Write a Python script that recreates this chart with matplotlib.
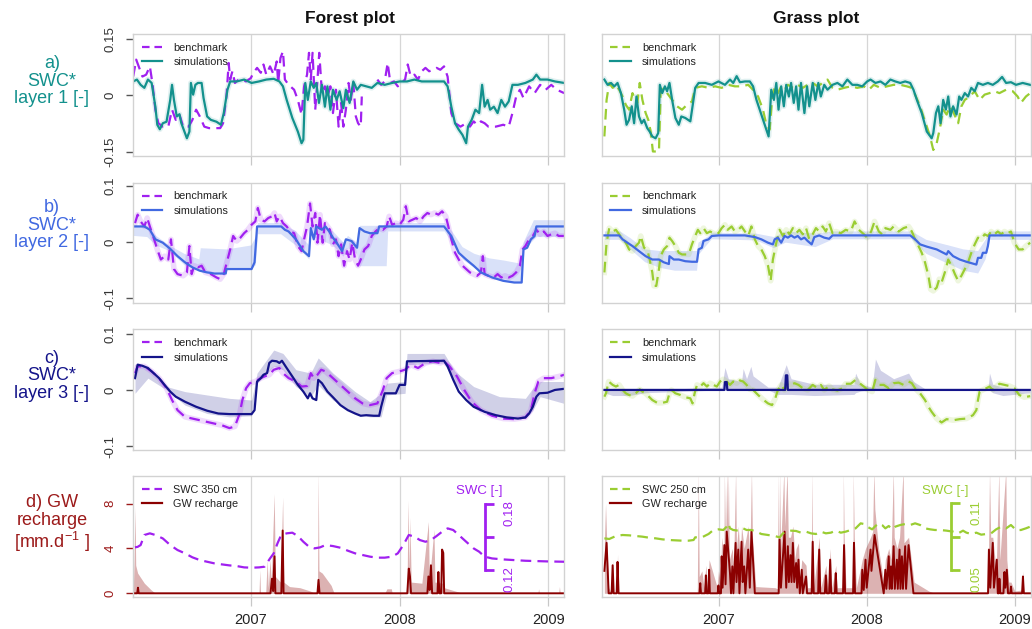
import numpy as np
import matplotlib
matplotlib.use('Agg')
import matplotlib.pyplot as plt
from matplotlib.lines import Line2D
from matplotlib.transforms import offset_copy

plt.rcParams['font.family'] = ['Liberation Sans', 'DejaVu Sans']
plt.rcParams['mathtext.fontset'] = 'custom'
plt.rcParams['mathtext.rm'] = 'Liberation Sans'
plt.rcParams['mathtext.it'] = 'Liberation Sans:italic'

nan = float('nan')

# ------------------------------------------------------------------ data
YEARS = [2007, 2008, 2009]
YEAR_LABELS = ['2007', '2008', '2009']
XLIM = (2006.209, 2009.107)
COL_TITLES = ['Forest plot', 'Grass plot']
ROW_LABELS = ['a)\nSWC*\nlayer 1 [-]', 'b)\nSWC*\nlayer 2 [-]',
              'c)\nSWC*\nlayer 3 [-]', 'd) GW\nrecharge\n[mm.d$^{-1}$ ]']

# Row a: layer 1, forest
fa1_sim = [
    (2006.209, 0.037), (2006.234, 0.042), (2006.259, 0.028), (2006.284, 0.020), (2006.308, 0.042), (2006.333, 0.033), (2006.358, -0.030), (2006.371, -0.078), (2006.388, -0.090), (2006.408, -0.074),
    (2006.433, -0.070), (2006.458, -0.012), (2006.470, 0.028), (2006.483, -0.012), (2006.502, -0.056), (2006.520, -0.050), (2006.532, -0.073), (2006.557, -0.100), (2006.570, -0.114), (2006.587, -0.096),
    (2006.597, 0.033), (2006.612, 0.002), (2006.627, 0.028), (2006.644, 0.033), (2006.669, 0.033), (2006.682, -0.007), (2006.706, -0.056), (2006.731, -0.065), (2006.769, -0.070), (2006.799, -0.078),
    (2006.818, -0.047), (2006.843, 0.015), (2006.861, 0.037), (2006.905, 0.037), (2006.955, 0.042), (2007.005, 0.033), (2007.055, 0.037), (2007.104, 0.042), (2007.154, 0.044), (2007.192, 0.037),
    (2007.216, 0.024), (2007.241, -0.012), (2007.279, -0.060), (2007.316, -0.096), (2007.341, -0.127), (2007.353, -0.118), (2007.366, 0.033), (2007.383, -0.012), (2007.403, 0.037), (2007.423, 0.020),
    (2007.440, 0.033), (2007.458, -0.020), (2007.478, 0.028), (2007.498, -0.030), (2007.515, 0.024), (2007.535, -0.038), (2007.552, 0.015), (2007.577, -0.012), (2007.597, 0.011), (2007.622, -0.034),
    (2007.639, 0.015), (2007.664, -0.020), (2007.689, 0.037), (2007.714, 0.015), (2007.739, 0.028), (2007.776, 0.024), (2007.813, 0.020), (2007.851, 0.033), (2007.900, 0.028), (2007.950, 0.033),
    (2008.000, 0.037), (2008.050, 0.037), (2008.100, 0.042), (2008.149, 0.037), (2008.199, 0.037), (2008.249, 0.037), (2008.299, 0.037), (2008.323, 0.024), (2008.348, -0.030), (2008.373, -0.074),
    (2008.398, -0.091), (2008.423, -0.105), (2008.448, -0.127), (2008.460, -0.083), (2008.485, -0.065), (2008.510, -0.038), (2008.535, -0.047), (2008.555, 0.028), (2008.572, -0.030), (2008.592, -0.012),
    (2008.609, -0.038), (2008.634, -0.030), (2008.659, -0.047), (2008.684, -0.012), (2008.709, -0.030), (2008.734, -0.016), (2008.759, 0.028), (2008.796, 0.028), (2008.846, 0.033), (2008.896, 0.042),
    (2008.920, 0.055), (2008.945, 0.042), (2008.995, 0.042), (2009.045, 0.037), (2009.107, 0.033)]

fa1_bench = [
    (2006.209, 0.050), (2006.229, 0.095), (2006.246, 0.077), (2006.271, 0.050), (2006.296, 0.055), (2006.321, 0.077), (2006.338, 0.033), (2006.358, -0.038), (2006.378, -0.074), (2006.408, -0.083),
    (2006.445, -0.083), (2006.470, -0.038), (2006.495, -0.065), (2006.520, -0.051), (2006.545, -0.083), (2006.582, -0.083), (2006.607, -0.065), (2006.632, -0.038), (2006.657, -0.056), (2006.687, -0.083),
    (2006.719, -0.087), (2006.756, -0.087), (2006.794, -0.087), (2006.813, -0.074), (2006.836, -0.003), (2006.851, 0.086), (2006.861, 0.042), (2006.876, 0.064), (2006.893, 0.033), (2006.918, 0.042),
    (2006.943, 0.042), (2006.968, 0.037), (2007.000, 0.046), (2007.017, 0.060), (2007.042, 0.073), (2007.067, 0.060), (2007.085, 0.082), (2007.104, 0.055), (2007.129, 0.077), (2007.154, 0.055),
    (2007.174, 0.090), (2007.184, 0.033), (2007.199, 0.099), (2007.216, 0.117), (2007.229, 0.042), (2007.254, 0.028), (2007.291, 0.015), (2007.316, -0.012), (2007.341, -0.051), (2007.358, 0.024),
    (2007.378, 0.055), (2007.391, 0.113), (2007.403, 0.042), (2007.415, 0.113), (2007.433, -0.038), (2007.448, 0.042), (2007.460, 0.113), (2007.478, 0.006), (2007.498, 0.024), (2007.515, -0.003),
    (2007.535, 0.024), (2007.552, -0.047), (2007.572, 0.015), (2007.590, -0.083), (2007.607, -0.020), (2007.622, -0.083), (2007.639, -0.038), (2007.657, 0.033), (2007.672, -0.012), (2007.689, 0.033),
    (2007.706, -0.056), (2007.721, -0.074), (2007.739, -0.083), (2007.746, -0.003), (2007.770, nan), (2007.851, 0.042), (2007.876, 0.028), (2007.900, 0.037), (2007.920, 0.086), (2007.938, 0.033),
    (2007.963, 0.037), (2007.988, 0.024), (2008.012, 0.033), (2008.037, 0.042), (2008.055, 0.082), (2008.075, 0.050), (2008.100, 0.055), (2008.124, 0.042), (2008.149, 0.064), (2008.174, 0.073),
    (2008.199, 0.064), (2008.224, 0.068), (2008.249, 0.073), (2008.274, 0.068), (2008.299, 0.077), (2008.323, 0.050), (2008.348, -0.047), (2008.373, -0.074), (2008.410, -0.083), (2008.448, -0.074),
    (2008.473, -0.083), (2008.498, -0.069), (2008.522, -0.078), (2008.547, -0.069), (2008.572, -0.074), (2008.597, -0.083), (2008.647, -0.083), (2008.697, -0.078), (2008.734, -0.083), (2008.759, -0.047),
    (2008.784, -0.003), (2008.809, 0.015), (2008.833, -0.007), (2008.871, 0.024), (2008.908, 0.006), (2008.945, 0.028), (2008.983, 0.015), (2009.020, 0.028), (2009.057, 0.015), (2009.107, 0.006)]

# Row a: layer 1, grass
ga1_sim = [
    (2006.227, 0.042), (2006.249, 0.028), (2006.272, 0.033), (2006.294, 0.024), (2006.316, 0.033), (2006.339, 0.006), (2006.361, -0.038), (2006.377, -0.078), (2006.394, -0.065), (2006.412, -0.029),
    (2006.428, -0.074), (2006.444, -0.003), (2006.461, -0.056), (2006.479, -0.074), (2006.495, -0.065), (2006.517, -0.087), (2006.533, -0.096), (2006.551, -0.109), (2006.573, -0.114), (2006.591, -0.100),
    (2006.602, 0.028), (2006.618, 0.006), (2006.636, 0.024), (2006.651, 0.011), (2006.667, 0.033), (2006.685, -0.012), (2006.707, -0.060), (2006.730, -0.078), (2006.747, -0.056), (2006.774, -0.060),
    (2006.808, -0.069), (2006.823, -0.029), (2006.841, 0.020), (2006.864, 0.033), (2006.908, 0.033), (2006.953, 0.028), (2006.998, 0.037), (2007.042, 0.028), (2007.076, 0.042), (2007.098, 0.033),
    (2007.121, 0.051), (2007.143, 0.035), (2007.177, 0.037), (2007.210, 0.037), (2007.232, 0.024), (2007.255, -0.012), (2007.288, -0.051), (2007.315, -0.083), (2007.337, -0.109), (2007.355, 0.015),
    (2007.373, -0.012), (2007.389, 0.033), (2007.404, -0.038), (2007.422, 0.024), (2007.440, -0.029), (2007.456, 0.028), (2007.474, -0.003), (2007.489, 0.033), (2007.507, -0.020), (2007.523, 0.024),
    (2007.539, -0.038), (2007.556, 0.033), (2007.579, -0.047), (2007.597, 0.024), (2007.612, -0.029), (2007.635, 0.033), (2007.653, -0.012), (2007.673, 0.033), (2007.690, -0.003), (2007.713, 0.028),
    (2007.735, 0.015), (2007.769, 0.028), (2007.802, 0.033), (2007.836, 0.024), (2007.869, 0.042), (2007.903, 0.028), (2007.936, 0.028), (2007.970, 0.024), (2008.003, 0.037), (2008.026, 0.042),
    (2008.059, 0.033), (2008.093, 0.037), (2008.126, 0.028), (2008.160, 0.042), (2008.193, 0.037), (2008.227, 0.033), (2008.260, 0.037), (2008.294, 0.033), (2008.316, 0.015), (2008.339, -0.012),
    (2008.372, -0.047), (2008.406, -0.096), (2008.439, -0.114), (2008.450, -0.100), (2008.468, -0.047), (2008.484, -0.029), (2008.499, -0.074), (2008.517, -0.012), (2008.535, -0.038), (2008.551, -0.003),
    (2008.566, -0.056), (2008.584, -0.029), (2008.607, -0.051), (2008.625, -0.003), (2008.640, -0.012), (2008.663, 0.006), (2008.685, -0.003), (2008.707, 0.020), (2008.730, 0.011), (2008.752, 0.033),
    (2008.785, 0.028), (2008.819, 0.033), (2008.852, 0.028), (2008.886, 0.037), (2008.915, 0.049), (2008.942, 0.033), (2008.975, 0.035), (2009.009, 0.028), (2009.054, 0.033), (2009.105, 0.028)]

ga1_bench = [
    (2006.227, -0.109), (2006.242, -0.012), (2006.260, 0.033), (2006.283, 0.020), (2006.305, 0.028), (2006.327, 0.015), (2006.350, -0.003), (2006.372, -0.025), (2006.394, -0.038), (2006.417, 0.006),
    (2006.435, -0.012), (2006.450, -0.020), (2006.466, 0.033), (2006.484, -0.012), (2006.506, -0.047), (2006.524, -0.065), (2006.540, -0.096), (2006.555, -0.149), (2006.573, -0.149), (2006.596, -0.149),
    (2006.607, 0.006), (2006.629, 0.020), (2006.651, 0.006), (2006.685, -0.012), (2006.718, -0.029), (2006.752, -0.038), (2006.785, -0.025), (2006.819, -0.016), (2006.841, 0.020), (2006.886, 0.024),
    (2006.931, 0.020), (2006.975, 0.024), (2007.020, 0.020), (2007.065, 0.028), (2007.109, 0.024), (2007.154, 0.024), (2007.199, 0.028), (2007.232, 0.015), (2007.266, -0.003), (2007.299, -0.038),
    (2007.322, -0.078), (2007.344, -0.091), (2007.360, -0.012), (2007.378, 0.024), (2007.400, 0.006), (2007.422, 0.024), (2007.445, 0.015), (2007.467, 0.028), (2007.501, 0.020), (2007.534, 0.028),
    (2007.568, 0.020), (2007.601, 0.028), (2007.635, 0.033), (2007.668, 0.024), (2007.702, 0.033), (2007.735, 0.042), (2007.769, 0.020), (2007.802, 0.015), (2007.847, 0.020), (2007.892, 0.024),
    (2007.936, 0.020), (2007.981, 0.024), (2008.015, 0.015), (2008.048, 0.028), (2008.093, 0.020), (2008.137, 0.024), (2008.182, 0.028), (2008.227, 0.028), (2008.271, 0.024), (2008.305, 0.020),
    (2008.327, 0.002), (2008.361, -0.029), (2008.394, -0.069), (2008.428, -0.109), (2008.450, -0.145), (2008.473, -0.127), (2008.495, -0.087), (2008.517, -0.038), (2008.540, -0.051), (2008.562, -0.029),
    (2008.584, -0.043), (2008.618, -0.074), (2008.640, -0.029), (2008.663, -0.012), (2008.696, -0.003), (2008.730, 0.011), (2008.763, -0.012), (2008.797, 0.002), (2008.830, 0.006), (2008.864, 0.011),
    (2008.897, 0.006), (2008.942, 0.015), (2008.987, 0.011), (2009.020, -0.003), (2009.042, -0.020), (2009.076, -0.003), (2009.105, 0.006)]

# Row b: layer 2, forest
fb2_sim = [
    (2006.221, 0.028), (2006.284, 0.028), (2006.321, 0.022), (2006.358, 0.005), (2006.408, -0.001), (2006.458, -0.012), (2006.507, -0.025), (2006.557, -0.036), (2006.607, -0.045), (2006.657, -0.051),
    (2006.706, -0.054), (2006.756, -0.056), (2006.831, -0.056), (2006.836, -0.048), (2007.005, -0.048), (2007.025, -0.036), (2007.042, 0.028), (2007.204, 0.028), (2007.229, 0.022), (2007.254, 0.019),
    (2007.303, 0.005), (2007.353, -0.016), (2007.391, -0.025), (2007.403, 0.025), (2007.423, 0.005), (2007.440, 0.028), (2007.458, 0.025), (2007.478, 0.022), (2007.502, 0.028), (2007.527, 0.019),
    (2007.552, 0.008), (2007.577, -0.001), (2007.614, -0.016), (2007.639, 0.005), (2007.677, 0.002), (2007.714, -0.010), (2007.731, 0.025), (2007.764, 0.019), (2007.801, 0.016), (2007.851, 0.016),
    (2007.863, 0.028), (2008.299, 0.028), (2008.348, 0.011), (2008.398, -0.019), (2008.448, -0.031), (2008.498, -0.042), (2008.547, -0.054), (2008.622, -0.063), (2008.697, -0.069), (2008.771, -0.072),
    (2008.821, -0.072), (2008.833, -0.013), (2008.858, -0.010), (2008.883, 0.005), (2008.908, 0.011), (2008.920, 0.028), (2009.107, 0.028)]

fb2_band = [  # (time, low, high)
    (2006.209, 0.012, 0.030), (2006.300, 0.010, 0.030), (2006.360, -0.005, 0.012), (2006.450, -0.015, -0.005), (2006.550, -0.040, -0.020), (2006.650, -0.050, -0.030),
    (2006.660, -0.051, -0.010), (2006.830, -0.056, -0.012), (2006.840, -0.048, -0.012), (2007.000, -0.048, -0.005), (2007.030, -0.040, 0.010), (2007.045, 0.015, 0.035),
    (2007.200, 0.015, 0.035), (2007.300, -0.005, 0.020), (2007.390, -0.030, -0.005), (2007.400, 0.012, 0.035), (2007.550, -0.005, 0.020), (2007.620, -0.025, 0.000),
    (2007.650, -0.010, 0.012), (2007.710, -0.020, 0.000), (2007.730, -0.042, 0.030), (2007.910, -0.042, 0.030), (2007.920, 0.020, 0.035), (2008.300, 0.020, 0.035),
    (2008.350, 0.000, 0.020), (2008.420, -0.030, -0.008), (2008.500, -0.045, -0.020), (2008.600, -0.060, -0.028), (2008.700, -0.069, -0.032), (2008.820, -0.072, -0.038),
    (2008.830, -0.015, 0.000), (2008.900, 0.005, 0.040), (2008.920, 0.010, 0.040), (2009.107, 0.010, 0.040)]

fb2_bench = [
    (2006.221, 0.034), (2006.239, 0.049), (2006.259, 0.037), (2006.284, 0.028), (2006.303, 0.043), (2006.321, 0.028), (2006.346, 0.008), (2006.371, -0.013), (2006.395, -0.031), (2006.420, -0.025),
    (2006.445, -0.031), (2006.463, 0.005), (2006.483, -0.048), (2006.507, -0.057), (2006.545, -0.060), (2006.570, -0.054), (2006.587, -0.007), (2006.602, -0.057), (2006.619, -0.042), (2006.644, -0.045),
    (2006.669, -0.042), (2006.694, -0.054), (2006.731, -0.057), (2006.769, -0.063), (2006.794, -0.066), (2006.818, -0.057), (2006.843, -0.031), (2006.861, -0.013), (2006.881, 0.011), (2006.905, 0.002),
    (2006.930, 0.008), (2006.955, 0.016), (2006.980, 0.022), (2007.005, 0.031), (2007.030, 0.037), (2007.047, 0.061), (2007.067, 0.040), (2007.092, 0.037), (2007.117, 0.043), (2007.142, 0.046),
    (2007.159, 0.052), (2007.174, 0.037), (2007.192, 0.046), (2007.216, 0.034), (2007.241, 0.028), (2007.266, 0.019), (2007.291, 0.016), (2007.316, -0.007), (2007.341, -0.016), (2007.358, 0.005),
    (2007.378, 0.028), (2007.398, 0.069), (2007.415, 0.028), (2007.433, 0.052), (2007.448, -0.001), (2007.465, 0.049), (2007.483, -0.001), (2007.498, 0.034), (2007.515, 0.028), (2007.532, 0.022),
    (2007.552, -0.004), (2007.572, 0.005), (2007.590, -0.025), (2007.607, -0.004), (2007.627, -0.042), (2007.647, -0.016), (2007.664, -0.031), (2007.682, -0.001), (2007.701, -0.031), (2007.721, -0.042),
    (2007.739, -0.031), (2007.764, -0.013), (2007.789, -0.007), (2007.813, 0.011), (2007.838, 0.019), (2007.863, 0.025), (2007.888, 0.022), (2007.913, 0.028), (2007.930, 0.046), (2007.950, 0.031),
    (2007.975, 0.034), (2008.000, 0.031), (2008.025, 0.040), (2008.042, 0.064), (2008.062, 0.037), (2008.087, 0.040), (2008.112, 0.043), (2008.137, 0.037), (2008.162, 0.046), (2008.187, 0.052),
    (2008.211, 0.049), (2008.236, 0.052), (2008.261, 0.049), (2008.286, 0.055), (2008.311, 0.046), (2008.328, 0.028), (2008.348, 0.005), (2008.373, -0.019), (2008.398, -0.031), (2008.423, -0.042),
    (2008.448, -0.048), (2008.473, -0.054), (2008.498, -0.057), (2008.522, -0.060), (2008.547, -0.054), (2008.560, -0.025), (2008.572, -0.057), (2008.597, -0.060), (2008.634, -0.063), (2008.659, -0.057),
    (2008.684, -0.063), (2008.709, -0.060), (2008.734, -0.063), (2008.759, -0.060), (2008.784, -0.054), (2008.809, -0.042), (2008.826, -0.013), (2008.846, -0.007), (2008.871, 0.005), (2008.896, 0.011),
    (2008.920, 0.022), (2008.945, 0.014), (2008.970, 0.019), (2008.995, 0.011), (2009.020, 0.014), (2009.045, 0.016), (2009.070, 0.011), (2009.107, 0.011)]

# Row b: layer 2, grass
gb2_sim = [
    (2006.227, 0.012), (2006.327, 0.012), (2006.350, 0.005), (2006.383, -0.001), (2006.417, -0.007), (2006.461, -0.016), (2006.506, -0.025), (2006.551, -0.031), (2006.596, -0.031), (2006.629, -0.036),
    (2006.663, -0.039), (2006.667, -0.025), (2006.696, -0.031), (2006.730, -0.031), (2006.774, -0.034), (2006.819, -0.035), (2006.853, -0.035), (2006.864, -0.013), (2006.886, -0.010), (2006.897, 0.002),
    (2006.931, 0.005), (2006.953, 0.011), (2006.998, 0.012), (2007.177, 0.012), (2007.244, 0.009), (2007.288, 0.005), (2007.333, -0.001), (2007.366, -0.004), (2007.378, 0.005), (2007.400, 0.008),
    (2007.422, -0.001), (2007.445, 0.011), (2007.467, 0.008), (2007.489, 0.012), (2007.512, 0.008), (2007.534, 0.011), (2007.556, 0.005), (2007.579, 0.008), (2007.601, 0.002), (2007.628, -0.004),
    (2007.646, 0.009), (2007.679, 0.012), (2007.713, 0.008), (2007.746, 0.006), (2007.769, 0.012), (2008.294, 0.012), (2008.327, 0.005), (2008.361, -0.004), (2008.406, -0.008), (2008.473, -0.013),
    (2008.540, -0.022), (2008.551, -0.016), (2008.584, -0.025), (2008.629, -0.031), (2008.674, -0.035), (2008.741, -0.040), (2008.752, -0.028), (2008.774, -0.028), (2008.785, -0.019), (2008.808, -0.019),
    (2008.819, -0.007), (2008.830, 0.012), (2009.105, 0.012)]

gb2_band = [  # (time, low, high)
    (2006.227, 0.005, 0.020), (2006.330, 0.005, 0.020), (2006.400, -0.012, 0.008), (2006.500, -0.035, -0.012), (2006.600, -0.045, -0.015), (2006.700, -0.050, -0.015),
    (2006.850, -0.050, -0.015), (2006.860, -0.022, 0.000), (2006.930, 0.000, 0.012), (2006.950, 0.006, 0.018), (2007.250, 0.004, 0.016), (2007.370, -0.010, 0.010),
    (2007.450, 0.000, 0.020), (2007.650, -0.008, 0.016), (2007.770, 0.006, 0.020), (2008.300, 0.006, 0.020), (2008.400, -0.020, 0.005), (2008.550, -0.038, -0.005),
    (2008.650, -0.050, -0.012), (2008.750, -0.055, -0.015), (2008.800, -0.030, 0.005), (2008.830, 0.005, 0.020), (2009.105, 0.005, 0.020)]

gb2_bench = [
    (2006.227, -0.054), (2006.242, -0.001), (2006.260, 0.025), (2006.283, 0.019), (2006.305, 0.022), (2006.327, 0.014), (2006.350, 0.005), (2006.372, -0.001), (2006.394, -0.013), (2006.417, -0.016),
    (2006.439, -0.007), (2006.461, -0.001), (2006.473, 0.011), (2006.495, -0.010), (2006.517, -0.013), (2006.533, -0.031), (2006.551, -0.054), (2006.562, -0.078), (2006.578, -0.078), (2006.596, -0.048),
    (2006.607, -0.025), (2006.629, -0.013), (2006.651, -0.007), (2006.667, 0.008), (2006.685, 0.002), (2006.707, -0.007), (2006.730, -0.019), (2006.752, -0.022), (2006.774, -0.022), (2006.797, -0.022),
    (2006.819, -0.004), (2006.841, 0.011), (2006.859, 0.022), (2006.875, 0.016), (2006.897, 0.025), (2006.920, 0.016), (2006.942, 0.019), (2006.975, 0.014), (2006.998, 0.016), (2007.020, 0.025),
    (2007.042, 0.031), (2007.060, 0.022), (2007.087, 0.028), (2007.109, 0.019), (2007.132, 0.022), (2007.154, 0.028), (2007.177, 0.019), (2007.199, 0.011), (2007.221, 0.028), (2007.244, 0.005),
    (2007.266, -0.007), (2007.288, -0.013), (2007.311, -0.025), (2007.333, -0.042), (2007.351, -0.069), (2007.366, -0.031), (2007.389, -0.001), (2007.411, 0.022), (2007.434, 0.011), (2007.456, 0.022),
    (2007.478, 0.014), (2007.501, 0.025), (2007.523, 0.016), (2007.545, 0.022), (2007.568, 0.014), (2007.590, 0.025), (2007.612, 0.005), (2007.635, 0.014), (2007.657, 0.025), (2007.679, 0.019),
    (2007.702, 0.028), (2007.724, 0.019), (2007.746, 0.034), (2007.769, 0.016), (2007.791, 0.019), (2007.825, 0.016), (2007.858, 0.022), (2007.892, 0.019), (2007.918, 0.037), (2007.947, 0.022),
    (2007.981, 0.014), (2008.003, 0.008), (2008.030, 0.019), (2008.053, 0.037), (2008.082, 0.019), (2008.104, 0.014), (2008.126, 0.025), (2008.160, 0.022), (2008.182, 0.028), (2008.216, 0.019),
    (2008.249, 0.025), (2008.283, 0.028), (2008.305, 0.019), (2008.327, 0.005), (2008.350, -0.007), (2008.372, -0.019), (2008.394, -0.036), (2008.417, -0.060), (2008.432, -0.084), (2008.450, -0.087),
    (2008.473, -0.081), (2008.490, -0.066), (2008.506, -0.072), (2008.528, -0.054), (2008.551, -0.031), (2008.573, -0.042), (2008.596, -0.057), (2008.618, -0.069), (2008.640, -0.060), (2008.663, -0.048),
    (2008.685, -0.036), (2008.707, -0.019), (2008.730, -0.004), (2008.752, 0.008), (2008.774, 0.005), (2008.797, 0.014), (2008.819, 0.011), (2008.841, 0.019), (2008.864, 0.014), (2008.886, 0.019),
    (2008.909, 0.014), (2008.931, 0.019), (2008.953, 0.016), (2008.975, 0.019), (2008.998, -0.001), (2009.027, -0.013), (2009.054, -0.013), (2009.076, -0.007), (2009.105, -0.001)]

# Row c: layer 3, forest
fc3_sim = [
    (2006.221, 0.021), (2006.239, 0.045), (2006.271, 0.043), (2006.308, 0.039), (2006.346, 0.030), (2006.383, 0.021), (2006.420, 0.009), (2006.458, -0.003), (2006.495, -0.012), (2006.557, -0.021),
    (2006.632, -0.030), (2006.706, -0.037), (2006.781, -0.042), (2006.856, -0.043), (2007.005, -0.043), (2007.025, -0.036), (2007.042, 0.015), (2007.067, 0.021), (2007.085, 0.027), (2007.109, 0.030),
    (2007.124, 0.048), (2007.142, 0.052), (2007.174, 0.051), (2007.192, 0.048), (2007.209, 0.052), (2007.241, 0.039), (2007.279, 0.024), (2007.316, 0.009), (2007.353, -0.003), (2007.383, -0.015),
    (2007.398, -0.006), (2007.415, -0.015), (2007.440, -0.018), (2007.453, 0.018), (2007.478, 0.012), (2007.515, -0.003), (2007.552, -0.013), (2007.602, -0.027), (2007.652, -0.036), (2007.701, -0.042),
    (2007.739, -0.046), (2007.776, -0.045), (2007.826, -0.046), (2007.863, -0.046), (2007.876, -0.030), (2007.900, -0.006), (2007.975, -0.006), (2008.000, 0.009), (2008.037, 0.009), (2008.050, 0.051),
    (2008.299, 0.052), (2008.323, 0.042), (2008.361, 0.018), (2008.398, -0.003), (2008.448, -0.018), (2008.498, -0.030), (2008.572, -0.039), (2008.647, -0.045), (2008.721, -0.049), (2008.796, -0.051),
    (2008.846, -0.049), (2008.871, -0.042), (2008.896, -0.030), (2008.920, -0.012), (2008.940, -0.006), (2008.995, -0.005), (2009.045, 0.000), (2009.107, 0.002)]

fc3_band = [  # (time, low, high)
    (2006.221, -0.006, 0.045), (2006.308, 0.021, 0.042), (2006.433, 0.000, 0.006), (2006.557, -0.027, -0.003), (2006.706, -0.042, -0.009), (2006.856, -0.048, -0.015),
    (2007.005, -0.046, -0.018), (2007.042, 0.012, 0.030), (2007.154, 0.042, 0.071), (2007.216, 0.036, 0.065), (2007.303, 0.006, 0.036), (2007.403, -0.012, 0.030),
    (2007.453, 0.009, 0.057), (2007.552, -0.018, 0.030), (2007.701, -0.042, -0.003), (2007.801, -0.048, -0.021), (2007.876, -0.048, -0.006), (2007.913, -0.009, 0.012),
    (2008.037, -0.006, 0.015), (2008.050, 0.045, 0.065), (2008.299, 0.048, 0.065), (2008.373, 0.012, 0.033), (2008.498, -0.030, 0.006), (2008.672, -0.046, -0.012),
    (2008.846, -0.051, -0.015), (2008.896, -0.036, 0.003), (2008.945, -0.012, 0.015), (2009.107, -0.024, 0.015)]

fc3_bench = [
    (2006.221, 0.030), (2006.239, 0.042), (2006.284, 0.042), (2006.333, 0.033), (2006.383, 0.021), (2006.433, 0.003), (2006.470, -0.018), (2006.507, -0.036), (2006.557, -0.048), (2006.607, -0.051),
    (2006.657, -0.054), (2006.706, -0.057), (2006.756, -0.060), (2006.806, -0.063), (2006.856, -0.068), (2006.893, -0.065), (2006.925, -0.042), (2006.943, -0.018), (2006.968, 0.003), (2006.993, 0.012),
    (2007.030, 0.015), (2007.067, 0.021), (2007.092, 0.024), (2007.124, 0.027), (2007.154, 0.036), (2007.192, 0.039), (2007.216, 0.030), (2007.254, 0.021), (2007.303, 0.015), (2007.341, 0.006),
    (2007.378, 0.007), (2007.403, 0.030), (2007.423, 0.021), (2007.448, 0.027), (2007.473, 0.036), (2007.502, 0.033), (2007.552, 0.021), (2007.602, 0.009), (2007.652, -0.003), (2007.701, -0.015),
    (2007.751, -0.024), (2007.801, -0.027), (2007.851, -0.024), (2007.888, 0.000), (2007.913, 0.021), (2007.950, 0.030), (2008.000, 0.033), (2008.037, 0.036), (2008.075, 0.045), (2008.124, 0.039),
    (2008.174, 0.048), (2008.224, 0.051), (2008.274, 0.048), (2008.299, 0.051), (2008.336, 0.042), (2008.386, 0.024), (2008.435, 0.000), (2008.485, -0.021), (2008.547, -0.036), (2008.622, -0.046),
    (2008.697, -0.051), (2008.771, -0.052), (2008.846, -0.049), (2008.883, -0.036), (2008.908, -0.006), (2008.933, 0.015), (2008.970, 0.021), (2009.020, 0.021), (2009.070, 0.024), (2009.107, 0.027)]

# Row c: layer 3, grass
gc3_sim = [(2006.227, 0.0), (2007.038, 0.0), (2007.042, 0.014), (2007.054, 0.014), (2007.058, 0.0), (2007.449, 0.0),
           (2007.454, 0.026), (2007.463, 0.026), (2007.467, 0.0), (2009.105, 0.0)]

gc3_band = [  # (time, low, high)
    (2006.227, -0.005, 0.000), (2006.283, -0.010, 0.000), (2006.394, -0.010, 0.000), (2006.506, -0.005, 0.000), (2007.020, 0.000, 0.005), (2007.042, 0.000, 0.040),
    (2007.065, 0.000, 0.020), (2007.154, 0.000, 0.015), (2007.165, 0.000, 0.038), (2007.188, 0.000, 0.020), (2007.217, 0.000, 0.042), (2007.232, 0.000, 0.025),
    (2007.333, 0.000, 0.005), (2007.400, -0.008, 0.005), (2007.456, -0.008, 0.045), (2007.489, -0.008, 0.020), (2007.646, -0.010, 0.010), (2007.914, -0.008, 0.010),
    (2007.925, -0.005, 0.030), (2007.959, -0.002, 0.010), (2008.037, 0.000, 0.005), (2008.059, 0.000, 0.055), (2008.093, 0.000, 0.035), (2008.182, 0.000, 0.020),
    (2008.283, 0.000, 0.030), (2008.316, 0.000, 0.015), (2008.406, 0.000, 0.000), (2008.819, 0.000, 0.000), (2008.830, 0.000, 0.030), (2008.852, -0.005, 0.010),
    (2008.920, -0.010, 0.005), (2009.105, -0.005, 0.000)]

gc3_bench = [
    (2006.227, -0.012), (2006.238, -0.006), (2006.256, 0.015), (2006.283, 0.009), (2006.305, 0.006), (2006.327, 0.009), (2006.350, 0.000), (2006.372, -0.006), (2006.394, -0.009), (2006.417, -0.011),
    (2006.439, -0.006), (2006.466, 0.001), (2006.484, -0.003), (2006.506, -0.006), (2006.528, -0.012), (2006.551, -0.018), (2006.584, -0.023), (2006.618, -0.023), (2006.651, -0.021), (2006.667, -0.006),
    (2006.680, 0.000), (2006.707, -0.006), (2006.741, -0.009), (2006.774, -0.013), (2006.808, -0.015), (2006.823, -0.024), (2006.837, -0.006), (2006.853, 0.009), (2006.875, 0.006), (2006.897, 0.012),
    (2006.920, 0.006), (2006.942, 0.012), (2006.964, 0.009), (2006.987, 0.006), (2007.009, 0.015), (2007.031, 0.019), (2007.054, 0.015), (2007.076, 0.009), (2007.098, 0.015), (2007.121, 0.012),
    (2007.143, 0.017), (2007.165, 0.015), (2007.188, 0.009), (2007.210, 0.001), (2007.232, 0.000), (2007.266, -0.009), (2007.299, -0.017), (2007.333, -0.024), (2007.360, -0.027), (2007.382, -0.015),
    (2007.400, 0.000), (2007.422, 0.009), (2007.445, 0.000), (2007.467, 0.012), (2007.489, 0.009), (2007.512, 0.012), (2007.539, 0.009), (2007.568, 0.003), (2007.601, 0.000), (2007.635, 0.009),
    (2007.668, 0.003), (2007.690, 0.009), (2007.713, 0.000), (2007.746, 0.007), (2007.769, 0.001), (2007.802, -0.001), (2007.836, 0.003), (2007.858, 0.011), (2007.892, 0.011), (2007.925, 0.018),
    (2007.947, 0.013), (2007.981, 0.006), (2008.003, 0.001), (2008.037, -0.003), (2008.059, 0.018), (2008.082, 0.009), (2008.115, 0.009), (2008.149, 0.003), (2008.182, 0.012), (2008.216, 0.013),
    (2008.249, 0.009), (2008.283, 0.015), (2008.305, 0.012), (2008.327, 0.003), (2008.361, -0.006), (2008.394, -0.018), (2008.417, -0.030), (2008.439, -0.039), (2008.473, -0.051), (2008.506, -0.058),
    (2008.540, -0.052), (2008.584, -0.054), (2008.629, -0.052), (2008.674, -0.051), (2008.718, -0.045), (2008.741, -0.036), (2008.752, -0.018), (2008.763, -0.003), (2008.785, 0.000), (2008.808, 0.003),
    (2008.830, 0.006), (2008.852, 0.000), (2008.875, 0.006), (2008.897, 0.011), (2008.931, 0.009), (2008.964, 0.007), (2008.998, 0.003), (2009.031, -0.009), (2009.065, -0.013), (2009.105, -0.011)]

# Row d: GW recharge (mm/d) and deep soil water content, forest
fd_recharge = [
    (2006.209, 0.0), (2006.236, 0.0), (2006.241, 0.5), (2006.246, 0.0), (2007.132, 0.0), (2007.142, 1.3), (2007.150, 0.2), (2007.159, 3.3), (2007.165, 0.0), (2007.205, 0.0),
    (2007.214, 5.6), (2007.220, 0.0), (2007.448, 0.0), (2007.455, 1.2), (2007.462, 0.0), (2008.052, 0.0), (2008.062, 2.2), (2008.070, 1.5), (2008.077, 0.0), (2008.187, 0.0),
    (2008.194, 1.5), (2008.202, 0.3), (2008.211, 2.5), (2008.219, 0.0), (2008.255, 0.0), (2008.261, 1.9), (2008.268, 0.0), (2008.280, 0.0), (2008.286, 3.9), (2008.294, 3.6),
    (2008.300, 0.0), (2009.107, 0.0)]

fd_recharge_band = [
    (2006.209, 0.0), (2006.215, 3.0), (2006.221, 7.7), (2006.226, 2.5), (2006.239, 1.8), (2006.284, 0.9), (2006.330, 0.3), (2006.358, 0.0), (2007.055, 0.0), (2007.060, 2.1),
    (2007.065, 0.0), (2007.100, 0.0), (2007.110, 3.0), (2007.117, 0.5), (2007.129, 3.0), (2007.137, 1.0), (2007.157, 8.9), (2007.165, 1.5), (2007.199, 1.0), (2007.214, 8.6),
    (2007.221, 1.0), (2007.260, 0.6), (2007.330, 0.5), (2007.400, 0.2), (2007.430, 0.0), (2007.448, 0.2), (2007.453, 11.0), (2007.458, 2.0), (2007.480, 1.8), (2007.540, 0.7),
    (2007.560, 0.0), (2007.900, 0.0), (2007.915, 0.4), (2007.945, 0.4), (2007.950, 0.0), (2008.050, 0.0), (2008.057, 8.3), (2008.065, 2.0), (2008.070, 6.8), (2008.078, 1.0),
    (2008.150, 0.9), (2008.194, 6.4), (2008.200, 1.0), (2008.231, 5.7), (2008.238, 1.0), (2008.290, 0.9), (2008.300, 0.5), (2008.400, 0.1), (2008.420, 0.0), (2008.930, 0.0),
    (2008.935, 0.4), (2008.940, 0.0), (2009.070, 0.0), (2009.075, 0.6), (2009.080, 0.0), (2009.107, 0.0)]

fd_swc350 = [
    (2006.221, 0.1405), (2006.239, 0.1410), (2006.259, 0.1426), (2006.284, 0.1517), (2006.321, 0.1532), (2006.358, 0.1517), (2006.408, 0.1486), (2006.458, 0.1426), (2006.507, 0.1381), (2006.557, 0.1351),
    (2006.607, 0.1315), (2006.657, 0.1290), (2006.706, 0.1275), (2006.756, 0.1260), (2006.806, 0.1251), (2006.856, 0.1242), (2006.905, 0.1236), (2006.955, 0.1224), (2007.005, 0.1221), (2007.055, 0.1224),
    (2007.092, 0.1230), (2007.129, 0.1305), (2007.154, 0.1351), (2007.179, 0.1441), (2007.204, 0.1517), (2007.241, 0.1532), (2007.279, 0.1538), (2007.316, 0.1508), (2007.353, 0.1456), (2007.391, 0.1411),
    (2007.428, 0.1396), (2007.465, 0.1405), (2007.502, 0.1426), (2007.552, 0.1417), (2007.602, 0.1402), (2007.652, 0.1375), (2007.701, 0.1351), (2007.751, 0.1336), (2007.801, 0.1321), (2007.851, 0.1312),
    (2007.900, 0.1312), (2007.950, 0.1321), (2007.988, 0.1351), (2008.025, 0.1426), (2008.062, 0.1517), (2008.100, 0.1502), (2008.137, 0.1471), (2008.174, 0.1456), (2008.211, 0.1471), (2008.249, 0.1508),
    (2008.286, 0.1547), (2008.323, 0.1577), (2008.361, 0.1562), (2008.398, 0.1517), (2008.448, 0.1456), (2008.498, 0.1396), (2008.535, 0.1366), (2008.572, 0.1321), (2008.622, 0.1305), (2008.697, 0.1296),
    (2008.771, 0.1290), (2008.846, 0.1284), (2008.920, 0.1281), (2008.995, 0.1278), (2009.107, 0.1275)]

# Row d: grass
gd_recharge = [
    (2006.227, 2.0), (2006.242, 4.5), (2006.256, 0.0), (2006.276, 0.0), (2006.283, 2.5), (2006.290, 0.0), (2006.310, 0.0), (2006.316, 2.8), (2006.323, 0.0), (2006.870, 0.0),
    (2006.875, 0.9), (2006.880, 0.0), (2006.908, 0.0), (2006.913, 1.6), (2006.918, 0.0), (2006.930, 0.0), (2006.935, 2.1), (2006.940, 0.0), (2006.993, 0.0), (2006.998, 0.7),
    (2007.003, 0.0), (2007.015, 0.0), (2007.020, 3.3), (2007.026, 0.5), (2007.038, 4.3), (2007.046, 0.8), (2007.054, 5.5), (2007.065, 3.6), (2007.076, 1.8), (2007.083, 0.0),
    (2007.092, 2.4), (2007.099, 0.0), (2007.114, 4.5), (2007.120, 1.0), (2007.132, 3.9), (2007.140, 0.0), (2007.154, 4.6), (2007.162, 1.0), (2007.172, 2.4), (2007.180, 0.0),
    (2007.199, 3.9), (2007.210, 0.5), (2007.221, 5.5), (2007.244, 0.0), (2007.405, 0.0), (2007.411, 4.8), (2007.420, 0.5), (2007.445, 5.5), (2007.450, 3.0), (2007.456, 0.5),
    (2007.467, 4.2), (2007.474, 1.0), (2007.485, 3.4), (2007.492, 1.0), (2007.501, 4.5), (2007.510, 1.0), (2007.523, 2.7), (2007.530, 0.5), (2007.539, 3.0), (2007.548, 0.0),
    (2007.561, 2.1), (2007.568, 0.0), (2007.590, 1.5), (2007.597, 0.0), (2007.628, 0.0), (2007.635, 4.6), (2007.642, 0.0), (2007.672, 0.0), (2007.679, 3.9), (2007.686, 0.0),
    (2007.717, 0.0), (2007.724, 1.6), (2007.731, 0.0), (2007.746, 0.0), (2007.753, 3.0), (2007.760, 0.0), (2007.785, 0.0), (2007.791, 1.8), (2007.797, 0.0), (2007.840, 0.0),
    (2007.847, 4.3), (2007.854, 0.0), (2007.908, 0.0), (2007.914, 4.5), (2007.921, 0.0), (2007.965, 0.0), (2007.970, 2.1), (2007.980, 0.3), (2007.992, 3.0), (2008.000, 0.5),
    (2008.026, 3.9), (2008.032, 2.0), (2008.053, 5.2), (2008.115, 0.0), (2008.126, 2.1), (2008.133, 0.4), (2008.149, 3.3), (2008.155, 0.4), (2008.164, 2.4), (2008.170, 0.4),
    (2008.182, 4.2), (2008.190, 0.4), (2008.204, 3.0), (2008.210, 0.4), (2008.222, 3.9), (2008.228, 0.4), (2008.238, 3.3), (2008.245, 0.4), (2008.260, 4.2), (2008.266, 0.4),
    (2008.283, 4.3), (2008.316, 0.0), (2008.820, 0.0), (2008.826, 3.9), (2008.835, 0.5), (2008.852, 4.5), (2008.860, 0.5), (2008.879, 3.0), (2008.886, 0.0), (2008.893, 0.0),
    (2008.897, 1.3), (2008.903, 0.0), (2008.924, 0.0), (2008.931, 1.9), (2008.937, 0.5), (2008.947, 2.1), (2008.955, 0.0), (2008.970, 0.0), (2008.975, 0.6), (2008.980, 0.0),
    (2009.050, 0.0), (2009.056, 1.5), (2009.062, 0.0), (2009.105, 0.0)]

gd_recharge_band = [
    (2006.227, 4.5), (2006.235, 8.0), (2006.242, 5.0), (2006.256, 0.5), (2006.276, 0.0), (2006.283, 3.0), (2006.290, 0.0), (2006.310, 0.0), (2006.316, 3.5), (2006.323, 0.0),
    (2006.855, 0.0), (2006.862, 11.0), (2006.868, 1.5), (2006.886, 2.0), (2006.900, 0.5), (2006.913, 2.5), (2006.925, 0.5), (2006.935, 3.0), (2006.990, 0.5), (2006.998, 2.0),
    (2007.010, 1.0), (2007.020, 5.0), (2007.035, 3.0), (2007.038, 11.0), (2007.046, 4.0), (2007.054, 11.0), (2007.060, 6.0), (2007.065, 11.0), (2007.072, 3.0), (2007.092, 4.0),
    (2007.100, 2.0), (2007.114, 11.0), (2007.120, 4.0), (2007.132, 6.0), (2007.145, 3.0), (2007.154, 6.0), (2007.172, 4.0), (2007.199, 6.0), (2007.210, 3.0), (2007.221, 11.0),
    (2007.228, 5.0), (2007.250, 0.6), (2007.380, 0.5), (2007.398, 0.4), (2007.400, 11.0), (2007.406, 2.0), (2007.411, 11.0), (2007.418, 4.0), (2007.440, 11.0), (2007.446, 6.0),
    (2007.462, 11.0), (2007.470, 5.0), (2007.485, 5.0), (2007.501, 6.0), (2007.515, 3.0), (2007.523, 4.0), (2007.539, 4.5), (2007.548, 1.0), (2007.561, 3.0), (2007.590, 2.5),
    (2007.600, 0.5), (2007.626, 0.5), (2007.628, 11.0), (2007.633, 5.5), (2007.642, 0.5), (2007.679, 5.0), (2007.690, 0.5), (2007.724, 2.5), (2007.740, 0.5), (2007.753, 4.0),
    (2007.765, 0.5), (2007.791, 2.5), (2007.800, 0.5), (2007.840, 0.5), (2007.842, 11.0), (2007.848, 5.0), (2007.860, 0.5), (2007.907, 0.5), (2007.909, 11.0), (2007.916, 5.0),
    (2007.930, 0.5), (2007.970, 3.0), (2007.992, 4.0), (2008.026, 5.0), (2008.040, 5.5), (2008.048, 11.0), (2008.055, 7.5), (2008.080, 4.0), (2008.115, 1.0), (2008.126, 3.0),
    (2008.149, 4.0), (2008.164, 3.0), (2008.180, 11.0), (2008.186, 5.0), (2008.204, 4.0), (2008.222, 5.0), (2008.246, 11.0), (2008.252, 4.5), (2008.283, 5.0), (2008.320, 1.0),
    (2008.420, 0.2), (2008.460, 0.0), (2008.820, 0.0), (2008.830, 11.0), (2008.838, 5.0), (2008.852, 5.0), (2008.875, 2.0), (2008.893, 11.0), (2008.900, 3.0), (2008.940, 11.0),
    (2008.947, 3.0), (2008.960, 1.0), (2008.975, 1.0), (2009.000, 0.2), (2009.050, 0.3), (2009.056, 2.0), (2009.062, 0.0), (2009.105, 0.0)]

gd_swc250 = [
    (2006.227, 0.0785), (2006.260, 0.0779), (2006.305, 0.0806), (2006.350, 0.0815), (2006.394, 0.0812), (2006.439, 0.0806), (2006.484, 0.0800), (2006.528, 0.0791), (2006.573, 0.0785), (2006.618, 0.0776),
    (2006.663, 0.0770), (2006.707, 0.0767), (2006.752, 0.0764), (2006.797, 0.0764), (2006.830, 0.0770), (2006.841, 0.0794), (2006.886, 0.0794), (2006.931, 0.0824), (2006.964, 0.0860), (2006.998, 0.0866),
    (2007.031, 0.0860), (2007.054, 0.0890), (2007.065, 0.0920), (2007.076, 0.0875), (2007.098, 0.0860), (2007.132, 0.0854), (2007.165, 0.0875), (2007.188, 0.0860), (2007.221, 0.0860), (2007.255, 0.0845),
    (2007.288, 0.0824), (2007.333, 0.0815), (2007.378, 0.0806), (2007.411, 0.0794), (2007.434, 0.0830), (2007.456, 0.0845), (2007.489, 0.0854), (2007.523, 0.0851), (2007.556, 0.0836), (2007.590, 0.0845),
    (2007.623, 0.0830), (2007.657, 0.0824), (2007.690, 0.0845), (2007.724, 0.0830), (2007.758, 0.0836), (2007.791, 0.0854), (2007.825, 0.0836), (2007.858, 0.0845), (2007.892, 0.0860), (2007.925, 0.0875),
    (2007.959, 0.0920), (2007.981, 0.0914), (2008.003, 0.0890), (2008.037, 0.0866), (2008.059, 0.0896), (2008.082, 0.0920), (2008.104, 0.0905), (2008.126, 0.0875), (2008.149, 0.0896), (2008.171, 0.0866),
    (2008.193, 0.0890), (2008.227, 0.0905), (2008.260, 0.0914), (2008.294, 0.0905), (2008.327, 0.0920), (2008.361, 0.0905), (2008.394, 0.0875), (2008.428, 0.0866), (2008.461, 0.0860), (2008.495, 0.0860),
    (2008.540, 0.0854), (2008.584, 0.0845), (2008.618, 0.0830), (2008.651, 0.0854), (2008.674, 0.0836), (2008.707, 0.0824), (2008.741, 0.0836), (2008.774, 0.0818), (2008.808, 0.0824), (2008.841, 0.0830),
    (2008.875, 0.0866), (2008.909, 0.0890), (2008.942, 0.0875), (2008.975, 0.0905), (2009.009, 0.0860), (2009.042, 0.0860), (2009.076, 0.0875), (2009.105, 0.0890)]

# right-hand SWC axis (value ticks) for row d
FD_SWC_TICKS = [0.12, 0.15, 0.18]
FD_SWC_LABELS = ['0.12', '', '0.18']
GD_SWC_TICKS = [0.05, 0.08, 0.11]
GD_SWC_LABELS = ['0.05', '', '0.11']

# ------------------------------------------------------------------ style
TEAL = '#13918d'
ROYAL = '#4169E1'
NAVY = '#14148a'
PURPLE = '#A020F0'
GREEN = '#9ACD32'
DRED = '#8B0000'
DRED_LAB = '#9c1a1a'
FRAME = '#d2d2d2'
GRID = '#d6d6d6'
ROW_COLORS = [TEAL, ROYAL, NAVY, DRED_LAB]


def unpack(pairs):
    a = np.array(pairs, dtype=float)
    return a[:, 0], a[:, 1]


def unpack_band(rows):
    a = np.array(rows, dtype=float)
    return a[:, 0], a[:, 1], a[:, 2]


W, H = 1032.0, 629.0
fig = plt.figure(figsize=(W / 100, H / 100), dpi=100)

ROWS_PX = [(34, 156), (182.7, 302.7), (329.3, 450), (476, 597)]
COLS_PX = [(133.2, 564.2), (601.7, 1030.5)]
YLIMS = [(-0.161, 0.163), (-0.108, 0.106), (-0.107, 0.108), (-0.33, 10.46)]
YTICKS = [([-0.15, 0, 0.15], ['-0.15', '0', '0.15']),
          ([-0.1, 0, 0.1], ['-0.1', '0', '0.1']),
          ([-0.1, 0, 0.1], ['-0.1', '0', '0.1']),
          ([0, 4, 8], ['0', '4', '8'])]

axes = {}
for r, (y0, y1) in enumerate(ROWS_PX):
    for c, (x0, x1) in enumerate(COLS_PX):
        ax = fig.add_axes([x0 / W, 1 - y1 / H, (x1 - x0) / W, (y1 - y0) / H])
        ax.set_xlim(XLIM)
        ax.set_ylim(YLIMS[r])
        ax.set_xticks(YEARS)
        ax.grid(axis='x', color=GRID, lw=0.9)
        ax.set_axisbelow(True)
        for s in ax.spines.values():
            s.set_color(FRAME)
            s.set_linewidth(1.0)
        ax.tick_params(axis='x', direction='out', length=6.5, color='#c8c8c8', width=0.9,
                       labelsize=10.5, labelcolor='#222222', pad=5, labelbottom=(r == 3))
        if r == 3:
            ax.set_xticklabels(YEAR_LABELS)
        if c == 0:
            yt, yl = YTICKS[r]
            ax.set_yticks(yt)
            ax.set_yticklabels(yl)
            ycol = DRED_LAB if r == 3 else '#333333'
            tcol = DRED_LAB if r == 3 else '#555555'
            ax.tick_params(axis='y', direction='out', length=5, width=1.0, color=tcol,
                           labelsize=9.5, labelcolor=ycol, labelrotation=90, pad=7)
            for lab in ax.get_yticklabels():
                lab.set_va('center')
        else:
            ax.set_yticks([])
        axes[(r, c)] = ax

DASH = (0, (4.8, 2.8))
LEG_DASH = (0, (3.4, 2.2))
LEG_KW = dict(loc='upper left', frameon=False, fontsize=7.8, handlelength=1.9,
              handletextpad=1.0, labelspacing=0.42, borderaxespad=0.45, borderpad=0.35,
              labelcolor='#222222')


def draw_swc(ax, sim, bench, band, color_sim, color_bench, sim_band_lw=0, bench_band=True):
    if band is not None:
        t, lo, hi = unpack_band(band)
        ax.fill_between(t, lo, hi, color=color_sim, alpha=0.2, lw=0)
    ts, vs = unpack(sim)
    tb, vb = unpack(bench)
    if sim_band_lw:
        ax.plot(ts, vs, color=color_sim, lw=sim_band_lw, alpha=0.13, solid_joinstyle='round')
    if bench_band:
        ax.plot(tb, vb, color=color_bench, lw=4.0, alpha=0.16)
    ax.plot(tb, vb, color=color_bench, lw=1.6, ls=DASH)
    ax.plot(ts, vs, color=color_sim, lw=1.6)
    handles = [Line2D([], [], color=color_bench, lw=1.6, ls=LEG_DASH),
               Line2D([], [], color=color_sim, lw=1.6)]
    ax.legend(handles, ['benchmark', 'simulations'], **LEG_KW)


draw_swc(axes[(0, 0)], fa1_sim, fa1_bench, None, TEAL, PURPLE, sim_band_lw=4, bench_band=False)
draw_swc(axes[(0, 1)], ga1_sim, ga1_bench, None, TEAL, GREEN, sim_band_lw=4, bench_band=False)
draw_swc(axes[(1, 0)], fb2_sim, fb2_bench, fb2_band, ROYAL, PURPLE)
draw_swc(axes[(1, 1)], gb2_sim, gb2_bench, gb2_band, ROYAL, GREEN)
draw_swc(axes[(2, 0)], fc3_sim, fc3_bench, fc3_band, NAVY, PURPLE)
draw_swc(axes[(2, 1)], gc3_sim, gc3_bench, gc3_band, NAVY, GREEN)

SWC_AXIS_X = 2008.572


def draw_recharge(ax, rech, band, swc, swc_color, swc_label, ticks, ticklabels, ylim2):
    tb, vb = unpack(band)
    ax.fill_between(tb, 0, vb, color=DRED, alpha=0.3, lw=0)
    tr, vr = unpack(rech)
    ax.plot(tr, vr, color=DRED, lw=1.4)
    a2 = ax.twinx()
    a2.set_ylim(ylim2)
    for k in ['top', 'left', 'bottom']:
        a2.spines[k].set_visible(False)
    sp = a2.spines['right']
    sp.set_position(('data', SWC_AXIS_X))
    sp.set_bounds(ticks[0], ticks[-1])
    sp.set_color(swc_color)
    sp.set_linewidth(2.0)
    a2.set_yticks(ticks)
    a2.set_yticklabels([''] * len(ticks))
    a2.tick_params(axis='y', direction='out', length=6.5, width=2.0, color=swc_color)
    # tick labels: rotated, placed beside the ticks (slightly lower, as in R)
    lab_tr = offset_copy(a2.transData, fig=fig, x=25, y=-9, units='dots')
    for tv, tl in zip(ticks, ticklabels):
        if tl:
            a2.text(SWC_AXIS_X, tv, tl, transform=lab_tr, rotation=90, color=swc_color,
                    fontsize=9.5, ha='center', va='center')
    ts, vs = unpack(swc)
    a2.plot(ts, vs, color=swc_color, lw=1.6, ls=DASH)
    a2.text(0.802, 0.879, 'SWC [-]', transform=ax.transAxes, color=swc_color,
            fontsize=9.5, ha='center', va='center')
    handles = [Line2D([], [], color=swc_color, lw=1.6, ls=LEG_DASH),
               Line2D([], [], color=DRED, lw=1.6)]
    ax.legend(handles, [swc_label, 'GW recharge'], **LEG_KW)


draw_recharge(axes[(3, 0)], fd_recharge, fd_recharge_band, fd_swc350, PURPLE, 'SWC 350 cm',
              FD_SWC_TICKS, FD_SWC_LABELS, (0.0956, 0.2051))
draw_recharge(axes[(3, 1)], gd_recharge, gd_recharge_band, gd_swc250, GREEN, 'SWC 250 cm',
              GD_SWC_TICKS, GD_SWC_LABELS, (0.0257, 0.1346))

# column titles
fig.text(350 / W, 1 - 18 / H, COL_TITLES[0], ha='center', va='center', fontsize=12.5,
         fontweight='bold', color='#111111')
fig.text(816 / W, 1 - 18 / H, COL_TITLES[1], ha='center', va='center', fontsize=12.5,
         fontweight='bold', color='#111111')

# row labels
LABEL_CENTERS = [81, 225, 376, 524]
for r in range(4):
    fig.text(52 / W, 1 - LABEL_CENTERS[r] / H, ROW_LABELS[r], ha='center', va='center',
             multialignment='center', fontsize=13, color=ROW_COLORS[r], linespacing=1.06)

fig.savefig('out.png', dpi=100)
